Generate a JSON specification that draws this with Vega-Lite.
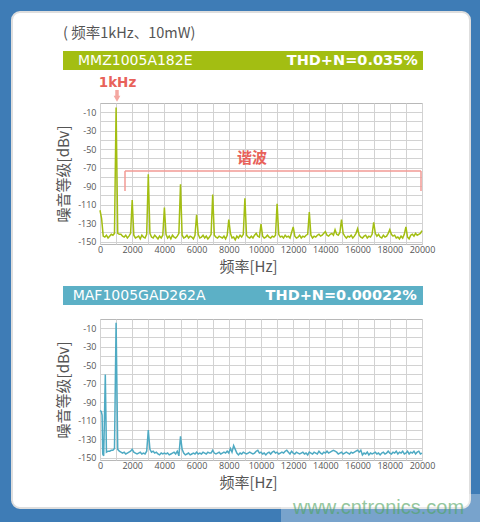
{
  "$schema": "https://vega.github.io/schema/vega-lite/v6.json",
  "background": "#3e7cb6",
  "padding": {"left": 10, "top": 10, "right": 0, "bottom": 0},
  "autosize": {"type": "pad"},
  "bounds": "flush",
  "spacing": 75,
  "config": {
    "view": {"stroke": "#b8b8b8", "strokeWidth": 1},
    "axis": {"grid": true, "gridColor": "#d2d2d2", "gridWidth": 1, "domain": false, "ticks": false, "labelFont": "Open Sans", "labelFontSize": 9, "labelColor": "#555555", "titleFont": "Noto Sans CJK SC", "titleFontSize": 15, "titleColor": "#555555", "titleFontWeight": "normal", "labelOverlap": false, "labelFlush": false}
  },
  "datasets": {
    "mmz": [
      {"f":0,"db":-116},{"f":100,"db":-125},{"f":200,"db":-144},{"f":300,"db":-145},{"f":400,"db":-143},{"f":500,"db":-146},{"f":600,"db":-144},{"f":700,"db":-142},{"f":800,"db":-143},{"f":900,"db":-141},
      {"f":1000,"db":-5},{"f":1100,"db":-141},{"f":1200,"db":-142},{"f":1300,"db":-142},{"f":1400,"db":-144},{"f":1500,"db":-145},{"f":1600,"db":-143},{"f":1700,"db":-146},{"f":1800,"db":-144},{"f":1900,"db":-141},
      {"f":2000,"db":-105},{"f":2100,"db":-143},{"f":2200,"db":-146},{"f":2300,"db":-145},{"f":2400,"db":-144},{"f":2500,"db":-147},{"f":2600,"db":-143},{"f":2700,"db":-145},{"f":2800,"db":-146},{"f":2900,"db":-142},
      {"f":3000,"db":-77},{"f":3100,"db":-141},{"f":3200,"db":-145},{"f":3300,"db":-146},{"f":3400,"db":-143},{"f":3500,"db":-145},{"f":3600,"db":-147},{"f":3700,"db":-144},{"f":3800,"db":-146},{"f":3900,"db":-143},
      {"f":4000,"db":-113},{"f":4100,"db":-142},{"f":4200,"db":-146},{"f":4300,"db":-144},{"f":4400,"db":-147},{"f":4500,"db":-143},{"f":4600,"db":-145},{"f":4700,"db":-146},{"f":4800,"db":-144},{"f":4900,"db":-141},
      {"f":5000,"db":-88},{"f":5100,"db":-143},{"f":5200,"db":-146},{"f":5300,"db":-145},{"f":5400,"db":-143},{"f":5500,"db":-146},{"f":5600,"db":-144},{"f":5700,"db":-145},{"f":5800,"db":-147},{"f":5900,"db":-143},
      {"f":6000,"db":-121},{"f":6100,"db":-142},{"f":6200,"db":-146},{"f":6300,"db":-145},{"f":6400,"db":-143},{"f":6500,"db":-146},{"f":6600,"db":-144},{"f":6700,"db":-147},{"f":6800,"db":-145},{"f":6900,"db":-142},
      {"f":7000,"db":-99},{"f":7100,"db":-143},{"f":7200,"db":-145},{"f":7300,"db":-146},{"f":7400,"db":-144},{"f":7500,"db":-145},{"f":7600,"db":-146},{"f":7700,"db":-144},{"f":7800,"db":-147},{"f":7900,"db":-143},
      {"f":8000,"db":-126},{"f":8100,"db":-141},{"f":8200,"db":-146},{"f":8300,"db":-145},{"f":8400,"db":-148},{"f":8500,"db":-144},{"f":8600,"db":-146},{"f":8700,"db":-143},{"f":8800,"db":-145},{"f":8900,"db":-142},
      {"f":9000,"db":-103},{"f":9100,"db":-143},{"f":9200,"db":-145},{"f":9300,"db":-146},{"f":9400,"db":-144},{"f":9500,"db":-146},{"f":9600,"db":-143},{"f":9700,"db":-141},{"f":9800,"db":-144},{"f":9900,"db":-145},
      {"f":10000,"db":-131},{"f":10100,"db":-144},{"f":10200,"db":-146},{"f":10300,"db":-145},{"f":10400,"db":-143},{"f":10500,"db":-145},{"f":10600,"db":-146},{"f":10700,"db":-144},{"f":10800,"db":-145},{"f":10900,"db":-143},
      {"f":11000,"db":-109},{"f":11100,"db":-142},{"f":11200,"db":-145},{"f":11300,"db":-144},{"f":11400,"db":-146},{"f":11500,"db":-143},{"f":11600,"db":-145},{"f":11700,"db":-144},{"f":11800,"db":-146},{"f":11900,"db":-140},
      {"f":12000,"db":-134},{"f":12100,"db":-144},{"f":12200,"db":-146},{"f":12300,"db":-145},{"f":12400,"db":-143},{"f":12500,"db":-146},{"f":12600,"db":-144},{"f":12700,"db":-145},{"f":12800,"db":-143},{"f":12900,"db":-142},
      {"f":13000,"db":-118},{"f":13100,"db":-143},{"f":13200,"db":-146},{"f":13300,"db":-144},{"f":13400,"db":-145},{"f":13500,"db":-143},{"f":13600,"db":-142},{"f":13700,"db":-144},{"f":13800,"db":-143},{"f":13900,"db":-141},
      {"f":14000,"db":-139},{"f":14100,"db":-143},{"f":14200,"db":-144},{"f":14300,"db":-142},{"f":14400,"db":-141},{"f":14500,"db":-143},{"f":14600,"db":-137},{"f":14700,"db":-142},{"f":14800,"db":-143},{"f":14900,"db":-140},
      {"f":15000,"db":-126},{"f":15100,"db":-141},{"f":15200,"db":-144},{"f":15300,"db":-146},{"f":15400,"db":-144},{"f":15500,"db":-145},{"f":15600,"db":-143},{"f":15700,"db":-146},{"f":15800,"db":-144},{"f":15900,"db":-141},
      {"f":16000,"db":-136},{"f":16100,"db":-143},{"f":16200,"db":-145},{"f":16300,"db":-146},{"f":16400,"db":-144},{"f":16500,"db":-143},{"f":16600,"db":-146},{"f":16700,"db":-144},{"f":16800,"db":-145},{"f":16900,"db":-142},
      {"f":17000,"db":-129},{"f":17100,"db":-141},{"f":17200,"db":-144},{"f":17300,"db":-142},{"f":17400,"db":-145},{"f":17500,"db":-146},{"f":17600,"db":-143},{"f":17700,"db":-145},{"f":17800,"db":-144},{"f":17900,"db":-141},
      {"f":18000,"db":-137},{"f":18100,"db":-142},{"f":18200,"db":-144},{"f":18300,"db":-143},{"f":18400,"db":-146},{"f":18500,"db":-145},{"f":18600,"db":-147},{"f":18700,"db":-144},{"f":18800,"db":-146},{"f":18900,"db":-142},
      {"f":19000,"db":-134},{"f":19100,"db":-145},{"f":19200,"db":-147},{"f":19300,"db":-143},{"f":19400,"db":-142},{"f":19500,"db":-144},{"f":19600,"db":-141},{"f":19700,"db":-143},{"f":19800,"db":-142},{"f":19900,"db":-141},
      {"f":20000,"db":-138}
    ],
    "maf": [
      {"f":0,"db":-99},{"f":80,"db":-100},{"f":130,"db":-104},{"f":170,"db":-146},{"f":230,"db":-148},{"f":330,"db":-60},{"f":400,"db":-144},{"f":500,"db":-143},{"f":600,"db":-143},{"f":700,"db":-142},{"f":800,"db":-142},{"f":900,"db":-140},
      {"f":1000,"db":-4},{"f":1100,"db":-141},{"f":1200,"db":-143},{"f":1300,"db":-144},{"f":1400,"db":-145},{"f":1500,"db":-144},{"f":1600,"db":-146},{"f":1700,"db":-145},{"f":1800,"db":-144},{"f":1900,"db":-143},
      {"f":2000,"db":-141},{"f":2100,"db":-144},{"f":2200,"db":-145},{"f":2300,"db":-146},{"f":2400,"db":-145},{"f":2500,"db":-144},{"f":2600,"db":-146},{"f":2700,"db":-145},{"f":2800,"db":-146},{"f":2900,"db":-143},
      {"f":3000,"db":-120},{"f":3100,"db":-141},{"f":3200,"db":-144},{"f":3300,"db":-143},{"f":3400,"db":-145},{"f":3500,"db":-144},{"f":3600,"db":-146},{"f":3700,"db":-147},{"f":3800,"db":-145},{"f":3900,"db":-146},
      {"f":4000,"db":-145},{"f":4100,"db":-146},{"f":4200,"db":-145},{"f":4300,"db":-147},{"f":4400,"db":-146},{"f":4500,"db":-145},{"f":4600,"db":-144},{"f":4700,"db":-146},{"f":4800,"db":-143},{"f":4900,"db":-148},
      {"f":5000,"db":-127},{"f":5100,"db":-141},{"f":5200,"db":-145},{"f":5300,"db":-147},{"f":5400,"db":-146},{"f":5500,"db":-145},{"f":5600,"db":-147},{"f":5700,"db":-146},{"f":5800,"db":-145},{"f":5900,"db":-146},
      {"f":6000,"db":-144},{"f":6100,"db":-146},{"f":6200,"db":-145},{"f":6300,"db":-146},{"f":6400,"db":-144},{"f":6500,"db":-145},{"f":6600,"db":-146},{"f":6700,"db":-144},{"f":6800,"db":-145},{"f":6900,"db":-145},
      {"f":7000,"db":-142},{"f":7100,"db":-145},{"f":7200,"db":-146},{"f":7300,"db":-145},{"f":7400,"db":-144},{"f":7500,"db":-146},{"f":7600,"db":-145},{"f":7700,"db":-144},{"f":7800,"db":-145},{"f":7900,"db":-143},
      {"f":8000,"db":-145},{"f":8100,"db":-140},{"f":8200,"db":-144},{"f":8300,"db":-137},{"f":8400,"db":-141},{"f":8500,"db":-145},{"f":8600,"db":-147},{"f":8700,"db":-145},{"f":8800,"db":-146},{"f":8900,"db":-144},
      {"f":9000,"db":-145},{"f":9100,"db":-146},{"f":9200,"db":-145},{"f":9300,"db":-144},{"f":9400,"db":-145},{"f":9500,"db":-146},{"f":9600,"db":-145},{"f":9700,"db":-143},{"f":9800,"db":-142},{"f":9900,"db":-145},
      {"f":10000,"db":-144},{"f":10100,"db":-146},{"f":10200,"db":-145},{"f":10300,"db":-147},{"f":10400,"db":-145},{"f":10500,"db":-144},{"f":10600,"db":-146},{"f":10700,"db":-144},{"f":10800,"db":-143},{"f":10900,"db":-145},
      {"f":11000,"db":-144},{"f":11100,"db":-146},{"f":11200,"db":-145},{"f":11300,"db":-144},{"f":11400,"db":-145},{"f":11500,"db":-143},{"f":11600,"db":-142},{"f":11700,"db":-144},{"f":11800,"db":-146},{"f":11900,"db":-143},
      {"f":12000,"db":-145},{"f":12100,"db":-146},{"f":12200,"db":-144},{"f":12300,"db":-145},{"f":12400,"db":-146},{"f":12500,"db":-145},{"f":12600,"db":-144},{"f":12700,"db":-146},{"f":12800,"db":-145},{"f":12900,"db":-147},
      {"f":13000,"db":-144},{"f":13100,"db":-145},{"f":13200,"db":-146},{"f":13300,"db":-144},{"f":13400,"db":-145},{"f":13500,"db":-146},{"f":13600,"db":-143},{"f":13700,"db":-145},{"f":13800,"db":-146},{"f":13900,"db":-144},
      {"f":14000,"db":-145},{"f":14100,"db":-143},{"f":14200,"db":-145},{"f":14300,"db":-144},{"f":14400,"db":-143},{"f":14500,"db":-142},{"f":14600,"db":-143},{"f":14700,"db":-144},{"f":14800,"db":-146},{"f":14900,"db":-145},
      {"f":15000,"db":-144},{"f":15100,"db":-146},{"f":15200,"db":-145},{"f":15300,"db":-144},{"f":15400,"db":-145},{"f":15500,"db":-146},{"f":15600,"db":-144},{"f":15700,"db":-145},{"f":15800,"db":-144},{"f":15900,"db":-143},
      {"f":16000,"db":-142},{"f":16100,"db":-144},{"f":16200,"db":-142},{"f":16300,"db":-147},{"f":16400,"db":-145},{"f":16500,"db":-146},{"f":16600,"db":-144},{"f":16700,"db":-147},{"f":16800,"db":-145},{"f":16900,"db":-146},
      {"f":17000,"db":-145},{"f":17100,"db":-144},{"f":17200,"db":-146},{"f":17300,"db":-145},{"f":17400,"db":-147},{"f":17500,"db":-145},{"f":17600,"db":-144},{"f":17700,"db":-146},{"f":17800,"db":-145},{"f":17900,"db":-143},
      {"f":18000,"db":-145},{"f":18100,"db":-146},{"f":18200,"db":-144},{"f":18300,"db":-145},{"f":18400,"db":-143},{"f":18500,"db":-146},{"f":18600,"db":-144},{"f":18700,"db":-145},{"f":18800,"db":-143},{"f":18900,"db":-146},
      {"f":19000,"db":-145},{"f":19100,"db":-143},{"f":19200,"db":-146},{"f":19300,"db":-144},{"f":19400,"db":-145},{"f":19500,"db":-143},{"f":19600,"db":-146},{"f":19700,"db":-144},{"f":19800,"db":-143},{"f":19900,"db":-146},
      {"f":20000,"db":-145}
    ]
  },
  "vconcat": [
    {
      "width": 322,
      "height": 10,
      "view": {"stroke": null},
      "data": {"values": [{}]},
      "layer": [
        {
          "mark": {"type": "rect", "fill": "white", "stroke": "#dedede", "strokeWidth": 2, "cornerRadius": 8, "clip": false},
          "encoding": {
            "x": {"datum": -5466, "type": "quantitative", "scale": {"domain": [0, 20000], "nice": false, "zero": false}, "axis": null},
            "x2": {"datum": 22981},
            "y": {"datum": 16, "type": "quantitative", "scale": {"domain": [0, 10], "nice": false, "zero": false}, "axis": null},
            "y2": {"datum": -480}
          }
        },
        {
          "mark": {"type": "rect", "fill": "white", "opacity": 0.3, "clip": false},
          "encoding": {
            "x": {"datum": 11242, "type": "quantitative"},
            "x2": {"datum": 23664},
            "y": {"datum": -466, "type": "quantitative"},
            "y2": {"datum": -495}
          }
        },
        {
          "mark": {"type": "text", "text": "www.cntronics.com", "font": "Liberation Sans", "fontSize": 20, "fill": "#4fa35f", "opacity": 0.6, "align": "center", "baseline": "alphabetic", "clip": false},
          "encoding": {
            "x": {"datum": 17300, "type": "quantitative"},
            "y": {"datum": -486, "type": "quantitative"}
          }
        }
      ]
    },
    {
      "width": 322,
      "height": 141,
      "layer": [
        {
          "data": {"name": "mmz"},
          "mark": {"type": "line", "stroke": "#a3be12", "strokeWidth": 1.5},
          "encoding": {
            "x": {"field": "f", "type": "quantitative", "scale": {"domain": [0, 20000], "nice": false, "zero": false},
              "axis": {"values": [0,1000,2000,3000,4000,5000,6000,7000,8000,9000,10000,11000,12000,13000,14000,15000,16000,17000,18000,19000,20000], "tickCount": 100, "labelExpr": "datum.value % 2000 == 0 ? '' + datum.value : ''", "labelOverlap": false, "labelFlush": false, "title": "频率[Hz]", "titleX": 148, "titlePadding": 5, "labelPadding": 1}},
            "y": {"field": "db", "type": "quantitative", "scale": {"domain": [-152.5, 0], "nice": false, "zero": false},
              "axis": {"values": [-150,-140,-130,-120,-110,-100,-90,-80,-70,-60,-50,-40,-30,-20,-10], "tickCount": 100, "labelExpr": "datum.value % 20 == -10 ? '' + datum.value : ''", "labelOverlap": false, "title": "噪音等级[dBv]", "titlePadding": 6, "labelPadding": 4}}
          }
        },
        {
          "data": {"values": [{}]},
          "layer": [
            {
              "mark": {"type": "text", "text": "( 频率1kHz、10mW)", "font": "Noto Sans CJK SC", "fontSize": 14.5, "fill": "#555555", "align": "left", "baseline": "middle", "clip": false},
              "encoding": {"x": {"datum": -2298, "type": "quantitative"}, "y": {"datum": 74.1, "type": "quantitative"}}
            },
            {
              "mark": {"type": "rect", "fill": "#a3be12", "clip": false},
              "encoding": {"x": {"datum": -2298, "type": "quantitative"}, "x2": {"datum": 20062}, "y": {"datum": 56.2, "type": "quantitative"}, "y2": {"datum": 35.7}}
            },
            {
              "mark": {"type": "text", "text": "MMZ1005A182E", "font": "DejaVu Sans", "fontSize": 14, "fill": "white", "align": "left", "baseline": "middle", "clip": false},
              "encoding": {"x": {"datum": -1366, "type": "quantitative"}, "y": {"datum": 45.2, "type": "quantitative"}}
            },
            {
              "mark": {"type": "text", "text": "THD+N=0.035%", "font": "DejaVu Sans", "fontSize": 14.5, "fontWeight": "bold", "fill": "white", "align": "right", "baseline": "middle", "clip": false},
              "encoding": {"x": {"datum": 19732, "type": "quantitative"}, "y": {"datum": 45.2, "type": "quantitative"}}
            },
            {
              "mark": {"type": "text", "text": "1kHz", "font": "DejaVu Sans", "fontSize": 13.5, "fontWeight": "bold", "fill": "#e8625a", "align": "center", "baseline": "middle", "clip": false},
              "encoding": {"x": {"datum": 1087, "type": "quantitative"}, "y": {"datum": 22, "type": "quantitative"}}
            },
            {
              "mark": {"type": "rule", "stroke": "#f4a7a1", "strokeWidth": 3.5, "clip": false},
              "encoding": {"x": {"datum": 1056, "type": "quantitative"}, "y": {"datum": 14.1, "type": "quantitative"}, "y2": {"datum": 6.5}}
            },
            {
              "mark": {"type": "point", "shape": "triangle-down", "filled": true, "fill": "#f4a7a1", "opacity": 1, "size": 45, "clip": false},
              "encoding": {"x": {"datum": 1056, "type": "quantitative"}, "y": {"datum": 4.6, "type": "quantitative"}}
            },
            {
              "mark": {"type": "rule", "stroke": "#f29a94", "strokeWidth": 1.5, "clip": false},
              "encoding": {"x": {"datum": 1553, "type": "quantitative"}, "x2": {"datum": 19938}, "y": {"datum": -73.5, "type": "quantitative"}}
            },
            {
              "mark": {"type": "rule", "stroke": "#f29a94", "strokeWidth": 1.5, "clip": false},
              "encoding": {"x": {"datum": 1553, "type": "quantitative"}, "y": {"datum": -73.5, "type": "quantitative"}, "y2": {"datum": -95.2}}
            },
            {
              "mark": {"type": "rule", "stroke": "#f29a94", "strokeWidth": 1.5, "clip": false},
              "encoding": {"x": {"datum": 19938, "type": "quantitative"}, "y": {"datum": -73.5, "type": "quantitative"}, "y2": {"datum": -95.2}}
            },
            {
              "mark": {"type": "text", "text": "谐波", "font": "Noto Sans CJK SC", "fontSize": 15, "fontWeight": "bold", "fill": "#e8625a", "align": "center", "baseline": "middle", "clip": false},
              "encoding": {"x": {"datum": 9441, "type": "quantitative"}, "y": {"datum": -59.5, "type": "quantitative"}}
            }
          ]
        }
      ]
    },
    {
      "width": 322,
      "height": 141,
      "layer": [
        {
          "data": {"name": "maf"},
          "mark": {"type": "line", "stroke": "#4eaac3", "strokeWidth": 1.5},
          "encoding": {
            "x": {"field": "f", "type": "quantitative", "scale": {"domain": [0, 20000], "nice": false, "zero": false},
              "axis": {"values": [0,1000,2000,3000,4000,5000,6000,7000,8000,9000,10000,11000,12000,13000,14000,15000,16000,17000,18000,19000,20000], "tickCount": 100, "labelExpr": "datum.value % 2000 == 0 ? '' + datum.value : ''", "labelOverlap": false, "labelFlush": false, "title": "频率[Hz]", "titleX": 148, "titlePadding": 5, "labelPadding": 1}},
            "y": {"field": "db", "type": "quantitative", "scale": {"domain": [-152.5, 0], "nice": false, "zero": false},
              "axis": {"values": [-150,-140,-130,-120,-110,-100,-90,-80,-70,-60,-50,-40,-30,-20,-10], "tickCount": 100, "labelExpr": "datum.value % 20 == -10 ? '' + datum.value : ''", "labelOverlap": false, "title": "噪音等级[dBv]", "titlePadding": 6, "labelPadding": 4}}
          }
        },
        {
          "data": {"values": [{}]},
          "layer": [
            {
              "mark": {"type": "rect", "fill": "#5cb0c6", "clip": false},
              "encoding": {"x": {"datum": -2298, "type": "quantitative"}, "x2": {"datum": 20062}, "y": {"datum": 35.7, "type": "quantitative"}, "y2": {"datum": 15.1}}
            },
            {
              "mark": {"type": "text", "text": "MAF1005GAD262A", "font": "DejaVu Sans", "fontSize": 14, "fill": "white", "align": "left", "baseline": "middle", "clip": false},
              "encoding": {"x": {"datum": -1696, "type": "quantitative"}, "y": {"datum": 25.2, "type": "quantitative"}}
            },
            {
              "mark": {"type": "text", "text": "THD+N=0.00022%", "font": "DejaVu Sans", "fontSize": 14.5, "fontWeight": "bold", "fill": "white", "align": "right", "baseline": "middle", "clip": false},
              "encoding": {"x": {"datum": 19671, "type": "quantitative"}, "y": {"datum": 25.2, "type": "quantitative"}}
            }
          ]
        }
      ]
    }
  ]
}
